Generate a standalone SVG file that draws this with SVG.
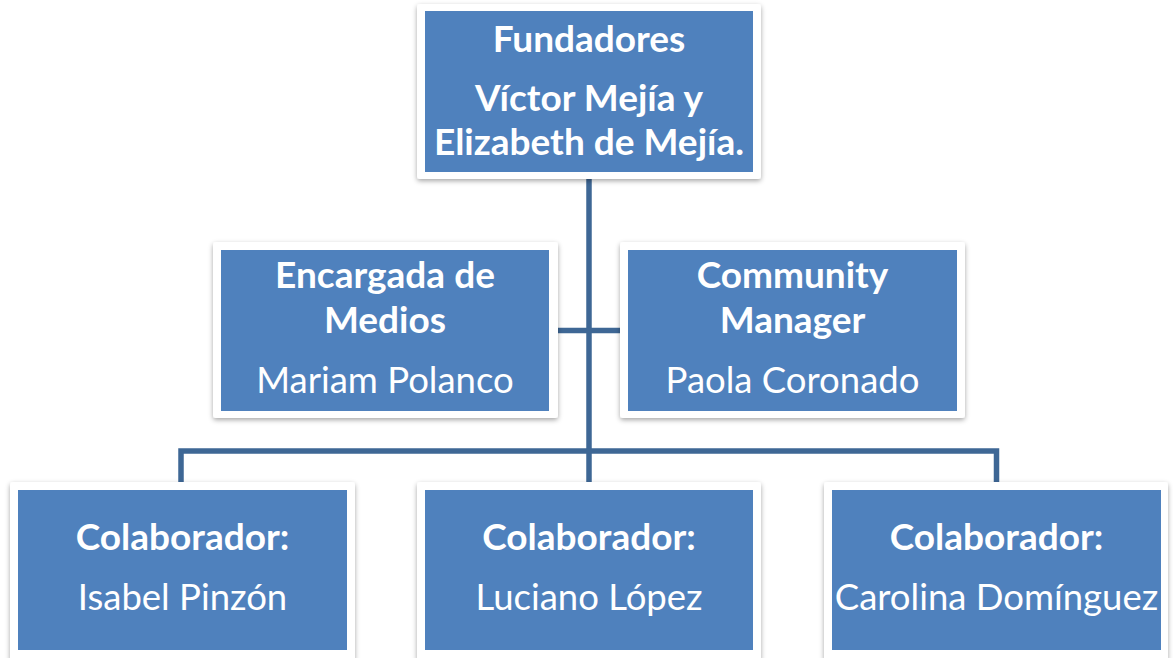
<svg xmlns="http://www.w3.org/2000/svg" width="1173" height="658" viewBox="0 0 1173 658">
<defs>
<filter id="sh" x="-10%" y="-10%" width="120%" height="125%">
<feDropShadow dx="0" dy="2" stdDeviation="2.5" flood-color="#000" flood-opacity="0.35"/>
</filter>
<style>
.frame{fill:#fff;filter:url(#sh)}
.box{fill:#4F81BD}
.t{font-family:Lato,"Open Sans","Liberation Sans",sans-serif;font-size:36.5px;fill:#fff;text-anchor:middle}
.b{font-weight:bold;font-size:37px}
.conn{stroke:#3E6795;stroke-width:5.5;fill:none}
</style>
</defs>
<rect width="1173" height="658" fill="#fff"/>
<g id="connectors">
<path class="conn" d="M589,178 V484"/>
<path class="conn" d="M556,330.5 H622"/>
<path class="conn" d="M181,484 V451 H996.5 V484"/>
</g>
<g id="n-fundadores">
<rect class="frame" x="417" y="4" width="344" height="175" rx="3"/>
<rect class="box" x="425" y="11" width="328" height="161"/>
<text class="t b" x="589" y="52">Fundadores</text>
<text class="t b" x="589" y="111">Víctor Mejía y</text>
<text class="t b" x="589" y="155">Elizabeth de Mejía.</text>
</g>
<g id="n-medios">
<rect class="frame" x="213" y="242" width="345" height="176" rx="3"/>
<rect class="box" x="221" y="250" width="328" height="161"/>
<text class="t b" x="385" y="288">Encargada de</text>
<text class="t b" x="385" y="333">Medios</text>
<text class="t" x="385" y="393">Mariam Polanco</text>
</g>
<g id="n-community">
<rect class="frame" x="620" y="242" width="345" height="176" rx="3"/>
<rect class="box" x="628" y="250" width="329" height="161"/>
<text class="t b" x="792.5" y="288">Community</text>
<text class="t b" x="792.5" y="333">Manager</text>
<text class="t" x="792.5" y="393">Paola Coronado</text>
</g>
<g id="n-isabel">
<rect class="frame" x="10" y="482" width="345" height="180" rx="3"/>
<rect class="box" x="18" y="490" width="329" height="160"/>
<text class="t b" x="182.5" y="550">Colaborador:</text>
<text class="t" x="182.5" y="610">Isabel Pinzón</text>
</g>
<g id="n-luciano">
<rect class="frame" x="417" y="482" width="344" height="180" rx="3"/>
<rect class="box" x="425" y="490" width="328" height="160"/>
<text class="t b" x="589" y="550">Colaborador:</text>
<text class="t" x="589" y="610">Luciano López</text>
</g>
<g id="n-carolina">
<rect class="frame" x="824" y="482" width="344" height="180" rx="3"/>
<rect class="box" x="832" y="490" width="329" height="160"/>
<text class="t b" x="996.5" y="550">Colaborador:</text>
<text class="t" x="996.5" y="610">Carolina Domínguez</text>
</g>
</svg>
